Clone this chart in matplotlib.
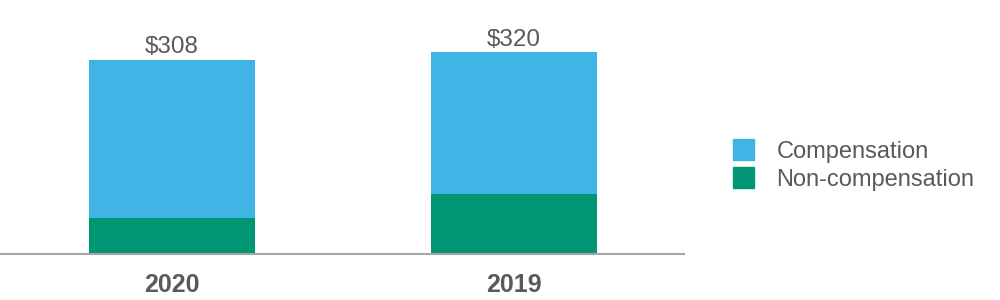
import matplotlib.pyplot as plt
from matplotlib.patches import Patch

years = ['2020', '2019']
non_compensation = [57, 95]
compensation = [251, 225]
totals = ['$308', '$320']

blue = '#41B4E6'
green = '#009673'
grey_text = '#595959'

plt.rcParams['font.family'] = ['Liberation Sans', 'DejaVu Sans']

fig = plt.figure(figsize=(10, 3), dpi=100)
ax = fig.add_axes([0.0, 0.1533, 0.684, 0.8467])

x = range(len(years))
width = 0.485
ax.bar(x, non_compensation, width, color=green, label='Non-compensation')
ax.bar(x, compensation, width, bottom=non_compensation, color=blue, label='Compensation')

for i in x:
    top = non_compensation[i] + compensation[i]
    ax.annotate(totals[i], (i, top), xytext=(0, 1), textcoords='offset points',
                ha='center', va='bottom', fontsize=17.5, color=grey_text)

ax.set_xlim(-0.503, 1.497)
ax.set_ylim(0, 403)
ax.set_xticks(list(x))
ax.set_xticklabels(years, fontsize=18, fontweight='bold', color=grey_text)
ax.tick_params(axis='x', length=0, pad=14)
ax.set_yticks([])
for side in ['top', 'right', 'left']:
    ax.spines[side].set_visible(False)
ax.spines['bottom'].set_color('#A6A6A6')
ax.spines['bottom'].set_linewidth(1.5)

handles = [Patch(color=blue), Patch(color=green)]
fig.legend(handles, ['Compensation', 'Non-compensation'], loc='center left',
           bbox_to_anchor=(0.721, 0.45), frameon=False, fontsize=17,
           labelcolor=grey_text, handlelength=0.9, handleheight=0.95,
           handletextpad=0.95, labelspacing=0.2, borderpad=0)

fig.savefig('out.png', dpi=100)
